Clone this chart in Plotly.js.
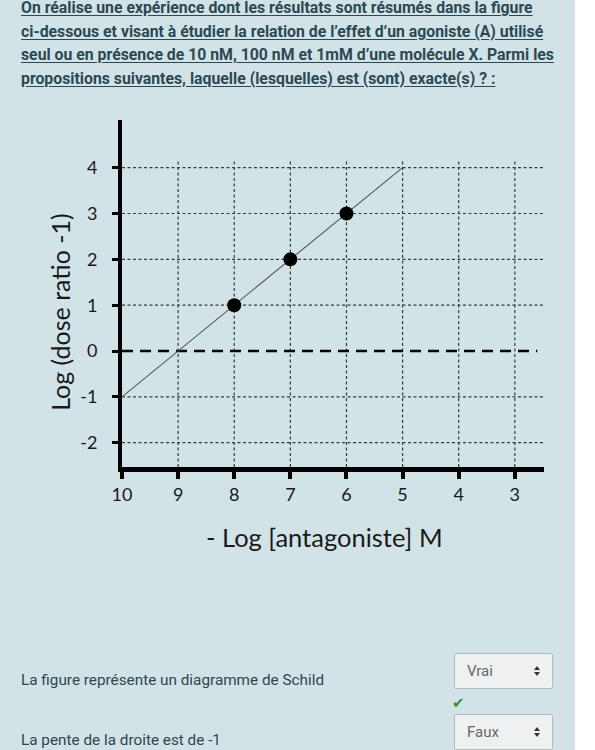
<!DOCTYPE html>
<html>
<head>
<meta charset="utf-8">
<script src="https://cdn.plot.ly/plotly-3.0.1.min.js"></script>
<style>
  html, body { margin:0; padding:0; background:#ffffff; width:595px; height:750px; overflow:hidden; }
  #panel { position:absolute; left:0; top:0; width:575px; height:750px; background:#d1e3e7; }
  #head { position:absolute; left:21px; top:-4px; width:560px; white-space:nowrap; font-family:Roboto, "Noto Sans", sans-serif; font-weight:700; font-size:15.8px; line-height:23.5px; color:#2c4953; text-decoration:underline; text-underline-offset:2px; }
  #chart { position:absolute; left:0; top:0; width:595px; height:750px; }
  .q { position:absolute; left:21px; font-family:Roboto, "Noto Sans", sans-serif; font-size:15.3px; color:#2f4650; }
  .sel { position:absolute; left:454px; width:99px; height:36px; background:#eef0f1; border:1px solid #b5babc; border-radius:2px; box-sizing:border-box; font-family:Roboto, "Noto Sans", sans-serif; font-size:15px; color:#62696d; }
  .sel span.t { position:absolute; left:12px; top:8px; }
  .arr { position:absolute; left:79px; top:12px; width:0; height:0; }
  .arr:before { content:""; position:absolute; left:0; top:0; border-left:3.5px solid transparent; border-right:3.5px solid transparent; border-bottom:4px solid #333; }
  .arr:after { content:""; position:absolute; left:0; top:6px; border-left:3.5px solid transparent; border-right:3.5px solid transparent; border-top:4px solid #333; }
  #chk { position:absolute; left:452px; top:694px; color:#3e8b3a; font-size:15px; font-family:"DejaVu Sans", sans-serif; }
</style>
</head>
<body>
<div id="panel"></div>
<div id="head">On réalise une expérience dont les résultats sont résumés dans la figure<br>ci-dessous et visant à étudier la relation de l’effet d’un agoniste (A) utilisé<br>seul ou en présence de 10 nM, 100 nM et 1mM d’une molécule X. Parmi les<br>propositions suivantes, laquelle (lesquelles) est (sont) exacte(s) ? :</div>
<div id="chart"></div>
<div class="q" style="top:671px;">La figure représente un diagramme de Schild</div>
<div class="sel" style="top:653px;"><span class="t">Vrai</span><span class="arr"></span></div>
<div id="chk">✔</div>
<div class="q" style="top:731px;">La pente de la droite est de -1</div>
<div class="sel" style="top:714px;"><span class="t">Faux</span><span class="arr"></span></div>
<script>
// ---- data ----
const xTicks = [10, 9, 8, 7, 6, 5, 4, 3];
const xTickLabels = ['10', '9', '8', '7', '6', '5', '4', '3'];
const yTicks = [-2, -1, 0, 1, 2, 3, 4];
const yTickLabels = ['-2', '-1', '0', '1', '2', '3', '4'];
const negLogAntagonist = [8, 7, 6];
const logDoseRatioMinus1 = [1, 2, 3];
const fitX = [10, 5];
const fitY = [-1, 4];
const xTitle = '- Log [antagoniste] M';
const yTitle = 'Log (dose ratio -1)';

const xRange = [10, 2.48];
const yRange = [-2.53, 5.04];
const vGridTop = 4.15;
const chartFont = 'Lato, "Open Sans", sans-serif';

const shapes = [];
// horizontal dotted gridlines (zero is drawn as the dashed reference line)
yTicks.forEach(v => {
  if (v === 0) return;
  shapes.push({type:'line', xref:'x', yref:'y', x0:xRange[0], x1:xRange[1], y0:v, y1:v,
    line:{color:'#3a3a3a', width:1.2, dash:'3px,2.5px'}, layer:'below'});
});
// vertical dotted gridlines
xTicks.forEach(v => {
  if (v === xRange[0]) return;
  shapes.push({type:'line', xref:'x', yref:'y', x0:v, x1:v, y0:yRange[0], y1:vGridTop,
    line:{color:'#3a3a3a', width:1.2, dash:'3px,2.5px'}, layer:'below'});
});
// zero dashed line
shapes.push({type:'line', xref:'x', yref:'y', x0:xRange[0], x1:2.6, y0:0, y1:0,
  line:{color:'#000', width:2.6, dash:'11px,7px'}, layer:'below'});

const traces = [
  {x: fitX, y: fitY, type:'scatter', mode:'lines', line:{color:'#555', width:1.1}, hoverinfo:'skip', showlegend:false},
  {x: negLogAntagonist, y: logDoseRatioMinus1, type:'scatter', mode:'markers',
   marker:{color:'#000', size:14}, showlegend:false}
];

const layout = {
  width:595, height:750,
  paper_bgcolor:'rgba(0,0,0,0)', plot_bgcolor:'rgba(0,0,0,0)',
  margin:{l:122, r:51, t:120, b:283},
  showlegend:false,
  shapes: shapes,
  annotations:[
    {text:xTitle, xref:'paper', yref:'paper', x:0.481, y:-0.202, xanchor:'center', yanchor:'middle',
     showarrow:false, font:{family:chartFont, size:25.5, color:'#1a1a1a'}},
    {text:yTitle, xref:'paper', yref:'paper', x:-0.147, y:0.447, xanchor:'center', yanchor:'middle',
     textangle:-90, showarrow:false, font:{family:chartFont, size:25, color:'#1a1a1a'}}
  ],
  xaxis:{
    range:xRange, tickmode:'array', tickvals:xTicks, ticktext:xTickLabels,
    showline:true, linecolor:'#000', linewidth:5, mirror:false,
    ticks:'outside', ticklen:7, tickwidth:4, tickcolor:'#000',
    showgrid:false, zeroline:false,
    tickfont:{family:chartFont, size:18, color:'#1a1a1a'},
    fixedrange:true
  },
  yaxis:{
    range:yRange, tickmode:'array', tickvals:yTicks, ticktext:yTickLabels,
    showline:true, linecolor:'#000', linewidth:4,
    ticks:'outside', ticklen:6, tickwidth:3, tickcolor:'#000',
    ticklabelstandoff:11,
    showgrid:false, zeroline:false,
    tickfont:{family:chartFont, size:18, color:'#1a1a1a'},
    fixedrange:true
  }
};

Plotly.newPlot('chart', traces, layout, {displayModeBar:false, staticPlot:true});
</script>
</body>
</html>
